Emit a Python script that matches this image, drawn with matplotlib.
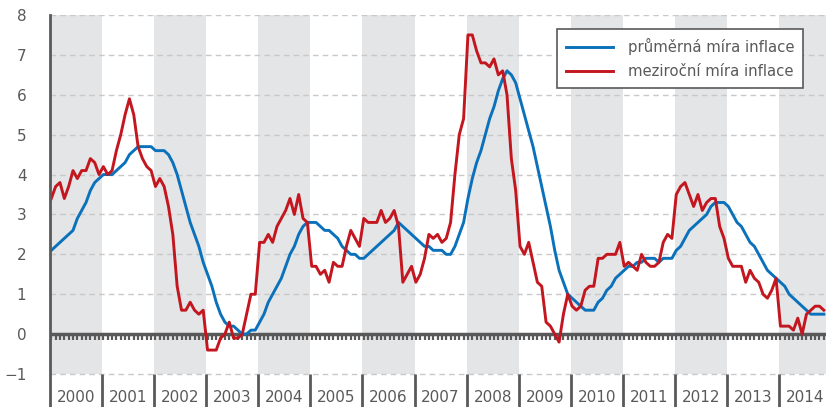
import numpy as np
import matplotlib
matplotlib.use('Agg')
import matplotlib.pyplot as plt

years = list(range(2000, 2015))

# meziroční míra inflace (%), měsíčně od 1/2000 do 11/2014
yoy = [
    3.4, 3.7, 3.8, 3.4, 3.7, 4.1, 3.9, 4.1, 4.1, 4.4, 4.3, 4.0,   # 2000
    4.2, 4.0, 4.1, 4.6, 5.0, 5.5, 5.9, 5.5, 4.7, 4.4, 4.2, 4.1,   # 2001
    3.7, 3.9, 3.7, 3.2, 2.5, 1.2, 0.6, 0.6, 0.8, 0.6, 0.5, 0.6,   # 2002
    -0.4, -0.4, -0.4, -0.1, 0.0, 0.3, -0.1, -0.1, 0.0, 0.5, 1.0, 1.0,  # 2003
    2.3, 2.3, 2.5, 2.3, 2.7, 2.9, 3.1, 3.4, 3.0, 3.5, 2.9, 2.8,   # 2004
    1.7, 1.7, 1.5, 1.6, 1.3, 1.8, 1.7, 1.7, 2.2, 2.6, 2.4, 2.2,   # 2005
    2.9, 2.8, 2.8, 2.8, 3.1, 2.8, 2.9, 3.1, 2.7, 1.3, 1.5, 1.7,   # 2006
    1.3, 1.5, 1.9, 2.5, 2.4, 2.5, 2.3, 2.4, 2.8, 4.0, 5.0, 5.4,   # 2007
    7.5, 7.5, 7.1, 6.8, 6.8, 6.7, 6.9, 6.5, 6.6, 6.0, 4.4, 3.6,   # 2008
    2.2, 2.0, 2.3, 1.8, 1.3, 1.2, 0.3, 0.2, 0.0, -0.2, 0.5, 1.0,  # 2009
    0.7, 0.6, 0.7, 1.1, 1.2, 1.2, 1.9, 1.9, 2.0, 2.0, 2.0, 2.3,   # 2010
    1.7, 1.8, 1.7, 1.6, 2.0, 1.8, 1.7, 1.7, 1.8, 2.3, 2.5, 2.4,   # 2011
    3.5, 3.7, 3.8, 3.5, 3.2, 3.5, 3.1, 3.3, 3.4, 3.4, 2.7, 2.4,   # 2012
    1.9, 1.7, 1.7, 1.7, 1.3, 1.6, 1.4, 1.3, 1.0, 0.9, 1.1, 1.4,   # 2013
    0.2, 0.2, 0.2, 0.1, 0.4, 0.0, 0.5, 0.6, 0.7, 0.7, 0.6,        # 2014
]

# průměrná míra inflace (%), měsíčně od 1/2000 do 11/2014
avg = [
    2.1, 2.2, 2.3, 2.4, 2.5, 2.6, 2.9, 3.1, 3.3, 3.6, 3.8, 3.9,   # 2000
    4.0, 4.0, 4.0, 4.1, 4.2, 4.3, 4.5, 4.6, 4.7, 4.7, 4.7, 4.7,   # 2001
    4.6, 4.6, 4.6, 4.5, 4.3, 4.0, 3.6, 3.2, 2.8, 2.5, 2.2, 1.8,   # 2002
    1.5, 1.2, 0.8, 0.5, 0.3, 0.2, 0.2, 0.1, 0.0, 0.0, 0.1, 0.1,   # 2003
    0.3, 0.5, 0.8, 1.0, 1.2, 1.4, 1.7, 2.0, 2.2, 2.5, 2.7, 2.8,   # 2004
    2.8, 2.8, 2.7, 2.6, 2.6, 2.5, 2.4, 2.2, 2.1, 2.0, 2.0, 1.9,   # 2005
    1.9, 2.0, 2.1, 2.2, 2.3, 2.4, 2.5, 2.6, 2.8, 2.7, 2.6, 2.5,   # 2006
    2.4, 2.3, 2.2, 2.2, 2.1, 2.1, 2.1, 2.0, 2.0, 2.2, 2.5, 2.8,   # 2007
    3.4, 3.9, 4.3, 4.6, 5.0, 5.4, 5.7, 6.1, 6.4, 6.6, 6.5, 6.3,   # 2008
    5.9, 5.5, 5.1, 4.7, 4.2, 3.7, 3.2, 2.7, 2.1, 1.6, 1.3, 1.0,   # 2009
    0.9, 0.8, 0.7, 0.6, 0.6, 0.6, 0.8, 0.9, 1.1, 1.2, 1.4, 1.5,   # 2010
    1.6, 1.7, 1.7, 1.8, 1.8, 1.9, 1.9, 1.9, 1.8, 1.9, 1.9, 1.9,   # 2011
    2.1, 2.2, 2.4, 2.6, 2.7, 2.8, 2.9, 3.0, 3.2, 3.3, 3.3, 3.3,   # 2012
    3.2, 3.0, 2.8, 2.7, 2.5, 2.3, 2.2, 2.0, 1.8, 1.6, 1.5, 1.4,   # 2013
    1.3, 1.2, 1.0, 0.9, 0.8, 0.7, 0.6, 0.5, 0.5, 0.5, 0.5,        # 2014
]

BLUE = '#0a71ba'
RED = '#c3161f'
BAND = '#e4e5e7'
DARK = '#595959'
GRID = '#c8c8c8'

fig = plt.figure(figsize=(8.26, 4.07), dpi=100)
ax = fig.add_axes([50 / 826, 0, 776 / 826, 392 / 407])
ax.set_xlim(-0.3, 178.5)
ax.set_ylim(-1.827, 8)

# year bands, labels and separators
for k, yr in enumerate(years):
    x0 = 12 * k - 0.3
    if k % 2 == 0:
        ax.fill_between([x0, x0 + 12], -1, 8, color=BAND, lw=0, zorder=0)
    ax.text(x0 + 6, -1.6, str(yr), ha='center', va='center',
            fontsize=11, color=DARK)
    if k > 0:
        ax.vlines(x0, -1.827, -1, color=DARK, lw=2, zorder=2)

# dashed grid
for v in range(-1, 9):
    if v != 0:
        ax.axhline(v, color=GRID, lw=1, ls=(0, (4, 3)), zorder=1)

# zero axis with monthly ticks
ax.axhline(0, color=DARK, lw=2.5, zorder=2)
ax.vlines(np.arange(0, 180), -0.14, 0, color=DARK, lw=1.6, zorder=2)

x = np.arange(len(yoy))
ax.plot(x, avg, color=BLUE, lw=2.1, label='průměrná míra inflace', zorder=3)
ax.plot(x, yoy, color=RED, lw=2.1, label='meziroční míra inflace', zorder=4)

ax.set_yticks(range(-1, 9))
ax.set_xticks([])
ax.tick_params(axis='y', length=0, pad=17, labelsize=11, labelcolor=DARK)
for s in ['top', 'right', 'bottom']:
    ax.spines[s].set_visible(False)
ax.spines['left'].set_color(DARK)
ax.spines['left'].set_linewidth(2)
ax.spines['left'].set_zorder(5)

leg = ax.legend(loc='upper left', bbox_to_anchor=(0.653, 0.964), fontsize=10.7,
                frameon=True, fancybox=False, edgecolor=DARK, framealpha=1,
                handlelength=3.2, borderaxespad=0, labelspacing=0.6,
                borderpad=0.6, handletextpad=1.0, labelcolor=DARK)
leg.get_frame().set_linewidth(1.2)
leg.set_zorder(10)

fig.savefig('out.png', dpi=100)
